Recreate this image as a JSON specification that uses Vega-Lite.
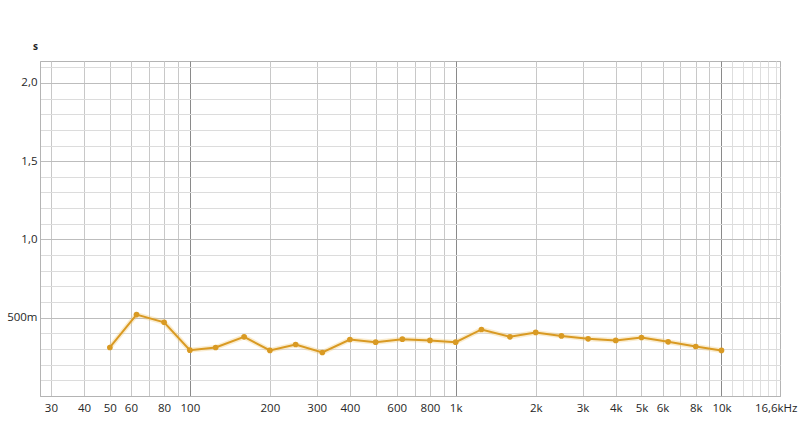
{
  "$schema": "https://vega.github.io/schema/vega-lite/v6.json",
  "autosize": "none",
  "width": 740,
  "height": 335,
  "padding": {"left": 40, "top": 61, "right": 20, "bottom": 25},
  "background": "white",
  "config": {
    "view": {"stroke": "#b4b4b4", "strokeWidth": 1},
    "font": "Open Sans",
    "axis": {"labelFont": "Open Sans", "titleFont": "Open Sans"}
  },
  "data": {
    "values": [
      {"f": 50, "t": 0.310},
      {"f": 63, "t": 0.520},
      {"f": 80, "t": 0.471},
      {"f": 100, "t": 0.293},
      {"f": 125, "t": 0.310},
      {"f": 160, "t": 0.378},
      {"f": 200, "t": 0.291},
      {"f": 250, "t": 0.329},
      {"f": 315, "t": 0.278},
      {"f": 400, "t": 0.361},
      {"f": 500, "t": 0.344},
      {"f": 630, "t": 0.363},
      {"f": 800, "t": 0.355},
      {"f": 1000, "t": 0.344},
      {"f": 1250, "t": 0.425},
      {"f": 1600, "t": 0.378},
      {"f": 2000, "t": 0.406},
      {"f": 2500, "t": 0.384},
      {"f": 3150, "t": 0.365},
      {"f": 4000, "t": 0.355},
      {"f": 5000, "t": 0.374},
      {"f": 6300, "t": 0.346},
      {"f": 8000, "t": 0.316},
      {"f": 10000, "t": 0.291}
    ]
  },
  "encoding": {
    "x": {
      "field": "f",
      "type": "quantitative",
      "scale": {"type": "log", "domain": [27.3, 16600], "nice": false},
      "axis": {
        "title": null,
        "values": [30, 40, 50, 60, 70, 80, 90, 100, 200, 300, 400, 500, 600, 700, 800, 900, 1000, 2000, 3000, 4000, 5000, 6000, 7000, 8000, 9000, 10000, 11000, 12000, 13000, 14000, 15000, 16000, 16600],
        "labelExpr": "datum.value == 16600 ? '16,6kHz' : (indexof([30,40,50,60,80,100,200,300,400,600,800], datum.value) >= 0 ? '' + datum.value : (indexof([1000,2000,3000,4000,5000,6000,8000,10000], datum.value) >= 0 ? (datum.value / 1000) + 'k' : ''))",
        "ticks": false,
        "labelPadding": 6,
        "labelFontSize": 11.5,
        "labelColor": "#262626",
        "labelFlush": 3,
        "labelFlushOffset": 17,
        "labelOverlap": false,
        "labelBound": false,
        "domainColor": "#b4b4b4",
        "grid": true,
        "gridWidth": 1,
        "gridColor": {
          "condition": [
            {"test": "datum.value == 100 || datum.value == 1000 || datum.value == 10000", "value": "#8a8a8a"},
            {"test": "datum.value > 10000 && datum.value < 16600", "value": "#dedede"},
            {"test": "datum.value == 16600", "value": "#b4b4b4"}
          ],
          "value": "#c8c8c8"
        }
      }
    },
    "y": {
      "field": "t",
      "type": "quantitative",
      "scale": {"domain": [0, 2.14], "nice": false, "zero": false},
      "axis": {
        "title": "s",
        "titleAngle": 0,
        "titleX": -5,
        "titleY": -10,
        "titleAlign": "center",
        "titleFontSize": 10,
        "titleFontWeight": "bold",
        "titleColor": "#262626",
        "values": [0.1, 0.2, 0.3, 0.4, 0.5, 0.6, 0.7, 0.8, 0.9, 1.0, 1.1, 1.2, 1.3, 1.4, 1.5, 1.6, 1.7, 1.8, 1.9, 2.0, 2.1],
        "labelExpr": "abs(datum.value - 0.5) < 0.001 ? '500m' : (abs(datum.value - 1) < 0.001 ? '1,0' : (abs(datum.value - 1.5) < 0.001 ? '1,5' : (abs(datum.value - 2) < 0.001 ? '2,0' : '')))",
        "ticks": false,
        "labelPadding": 3,
        "labelFontSize": 11.5,
        "labelColor": "#262626",
        "labelFlush": false,
        "labelOverlap": false,
        "domainColor": "#b4b4b4",
        "grid": true,
        "gridColor": {
          "condition": {"test": "abs(datum.value * 2 - round(datum.value * 2)) < 0.001", "value": "#bdbdbd"},
          "value": "#dcdcdc"
        }
      }
    }
  },
  "layer": [
    {"mark": {"type": "line", "color": "#f0c060", "strokeWidth": 5, "opacity": 0.3}},
    {"mark": {"type": "line", "color": "#d99a23", "strokeWidth": 2}},
    {"mark": {"type": "point", "filled": true, "color": "#d99a23", "size": 32, "opacity": 1}}
  ]
}
